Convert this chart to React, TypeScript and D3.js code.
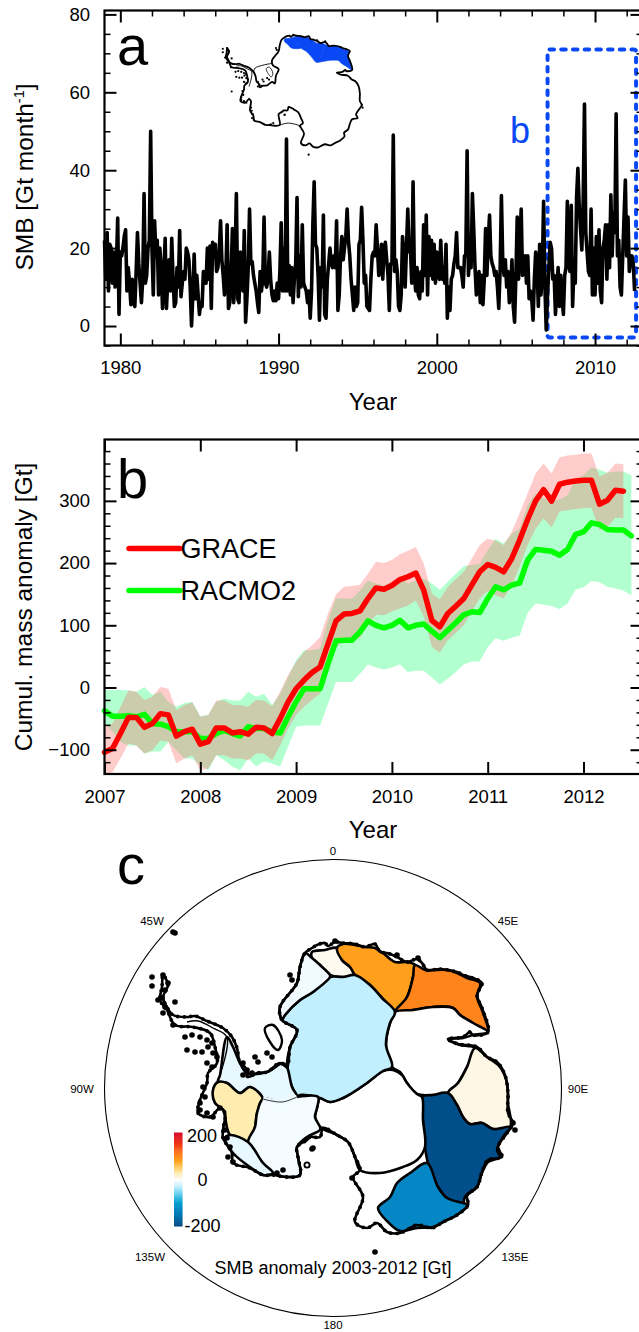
import React, { useEffect, useRef } from 'react'
import * as d3 from 'd3'

// panel a: monthly SMB from Jan 1979, one row per year
const smbMonthly = [
  22, 12, 24, 9, 21, 20, 11, 19, 10, 15, 27.7, 3,
  19, 18, 20, 23, 24.7, 9, 15, 11, 5.5, 12, 6, 5,
  14, 24, 16, 11, 6, 12, 34, 11, 13, 20, 22, 50,
  20, 8, 27, 18, 22, 8, 20, 15, 4.5, 13, 22.5, 4.5,
  12, 17, 9, 22.5, 12, 5, 6, 15, 10, 24.5, 7.5, 11,
  14, 12, 20, 19, 17, 10, 0, 8, 18.5, 7, 13, 8,
  3, 6, 5, 14, 13, 11, 20, 12, 20.5, 4.5, 21.5, 19,
  21, 14, 15, 19, 27, 17, 13, 8, 13, 26, 4.5, 6,
  13, 25, 6, 17, 34, 7, 6, 19, 15, 9, 24.5, 1,
  7, 15, 30, 16, 16.5, 13, 11, 9, 6, 3.5, 14, 9,
  12, 28, 11, 10, 12, 19, 12, 8, 6.5, 9, 6.5, 11,
  7, 14, 26.5, 9, 20, 9, 48, 9, 15.5, 8, 15, 6,
  12, 16, 33, 7.5, 18, 10, 26, 11, 10, 9, 6, 9,
  2, 9, 26, 37, 21, 20, 13, 1.5, 15, 10, 28.5, 3,
  2, 12, 16, 20, 16, 15, 18, 15, 27, 4, 8, 18,
  23, 17, 20, 23, 30, 22, 18, 12, 8, 4, 10, 5,
  6, 21, 22, 30.5, 22, 11, 13, 5, 4.5, 4, 12, 18,
  19, 18, 26, 20, 13, 14, 21, 12, 20, 21.5, 17, 13,
  4, 16, 16, 49, 14, 17, 14, 5, 4, 8, 23, 18,
  10, 20, 30, 19, 20, 11, 37, 13, 9, 15, 8, 7,
  14, 9, 26, 13, 28.5, 8, 23, 13, 22, 12, 21, 11,
  19, 13, 12, 22, 12, 15, 11, 21, 2, 10, 4, 12,
  13, 16, 18, 24, 15, 15, 15, 13, 10, 18, 18, 45,
  13, 18, 15, 34, 25, 15, 8, 12, 14, 6, 13, 5.5,
  12, 25, 13, 22, 28.5, 18, 16, 15, 13, 14, 10, 4.5,
  14, 33.5, 17, 13, 17, 10, 14, 6, 9, 17, 5, 1,
  13, 28, 12, 21, 30, 13, 15, 18, 11, 18, 7, 9,
  7, 1.5, 12, 19, 16, 5, 21, 8, 14, 32, 10, -1,
  8, 15, 21.5, 20, 12, 13, 3, 9, 15, 5, 13, 7,
  3, 13, 15, 32, 16, 14, 31, 5, 15, 11, 33, 40.5,
  31, 25, 19.5, 32, 57, 24, 19, 14, 13, 30, 8, 20,
  8, 23, 11, 24.7, 9, 6, 20, 22, 26, 12, 26, 15,
  33.7, 18, 29, 24, 54.5, 18, 22, 10, 8, 18, 28, 37.5,
  18, 28, 14, 17, 18, 16, 9,
]
const smbYearMajor = [1980, 1990, 2000, 2010]
const smbYearMinor = [1982, 1984, 1986, 1988, 1992, 1994, 1996, 1998, 2002, 2004, 2006, 2008, 2012]
const smbMajor = [0, 20, 40, 60, 80]
const smbMinor = [-5, 5, 10, 15, 25, 30, 35, 45, 50, 55, 65, 70, 75]

// panel b: monthly series from Jan 2007
const graceMass = [
  -104, -98, -74, -48, -48, -64, -58, -42, -44, -78, -71, -67,
  -91, -87, -65, -65, -73, -71, -75, -64, -65, -74, -50, -23,
  -2, 12, 24, 33, 70, 107, 118, 119, 123, 143, 160, 158,
  164, 173.5, 178, 184, 156, 108, 97.5, 119, 130.7, 143, 164.5, 186,
  197.7, 193, 186, 207, 237, 270, 300, 318, 299.5, 326.7, 330, 332,
  333, 333, 294.6, 301, 317, 315.5,
]
const graceUpper = [
  -63, -58, -31, -5, -7, -20, -15, 1, -2, -36, -28, -24,
  -47, -44, -21, -21, -28, -28, -31, -20, -21, -30, -7, 20,
  41, 57, 68, 81, 119, 150, 162, 163, 165, 183, 202, 200,
  205, 214, 220, 226, 199, 151, 142, 162, 174, 186, 207, 229,
  239, 236, 229, 250, 280, 312, 344, 360, 344, 370, 373, 374,
  376, 376, 339, 345, 360, 359,
]
const graceLower = [
  -149, -136, -114, -90, -93, -106, -101, -85, -87, -122, -114, -109,
  -133, -130, -109, -109, -114, -114, -117, -106, -106, -117, -93, -66,
  -44, -31, -20, -10, 28, 65, 75, 76, 80, 100, 117, 116,
  122, 127, 132, 140, 114, 65, 56, 76, 88, 100, 122, 143,
  155, 148, 143, 164, 194, 229, 255, 272, 257, 283, 285, 287,
  288, 289, 253, 258, 273, 272,
]
const racmoMass = [
  -37.5, -46, -46, -45.5, -47, -43, -58, -59, -63, -71, -71, -71,
  -82, -82, -74, -69, -74, -78, -63, -66, -66, -71, -73, -47,
  -23, -2, -2, -2, 38, 75, 76, 76, 89.5, 107, 100, 96,
  100, 108, 96, 100, 102, 90.5, 80, 92, 104, 117, 121.6, 120.5,
  143, 162, 157, 164.5, 168, 204.6, 222, 220.7, 219, 212.6, 221.7, 246,
  250, 264.6, 262, 254, 253, 253, 243.7,
]
const racmoUpper = [
  -4, -4, -4, -5, -7, 1, -12, -7, -23, -31, -25, -23,
  -46, -44, -23, -18, -21, -21, -7, -15, -10, -28, -10, 17,
  44, 60, 60, 63, 108, 143, 143, 143, 156, 172, 167, 164,
  170, 178, 167, 172, 175, 167, 157, 170, 183, 195, 197, 199,
  221, 239, 231, 247, 255, 293, 312, 304, 301, 302, 309, 336,
  341, 354, 350, 345, 347, 347, 341,
]
const racmoLower = [
  -58, -71, -87, -93, -93, -106, -103, -103, -87, -101, -114, -114,
  -125, -133, -109, -117, -127, -133, -114, -127, -119, -122, -127, -95,
  -63, -61, -61, -61, -26, 9, 9, 9, 22, 37, 32, 29,
  32, 37, 25, 27, 27, 16, 5, 14, 25, 37, 42, 42,
  65, 79, 75, 80, 83, 120, 135, 133, 131, 126, 135, 157,
  161, 171, 169, 162, 159, 156, 148,
]
const massYears = [2007, 2008, 2009, 2010, 2011, 2012]
const massMajor = [-100, 0, 100, 200, 300]
const massMinor = [-120, -80, -60, -40, -20, 20, 40, 60, 80, 120, 140, 160, 180, 220, 240, 260, 280, 320, 340, 360, 380]

// panel c: basin SMB anomaly [Gt]
const anomalyStops = [-200, -150, -120, -100, -60, -30, -10, 0, 8, 30, 60, 80, 105, 150, 200]
const anomalyColors = ['#00457f', '#0079b5', '#0487c4', '#00a0d0', '#62cfee', '#c2effd', '#e8f8ff', '#ffffff',
  '#fff7e6', '#feedaf', '#ffc04d', '#ff9f1c', '#ff841c', '#f23b17', '#d6082a']

// basin outlines in polar grid units, origin at the pole
const basinDronning = [[-21, -136], [-8, -138], [4, -140], [9, -128], [17, -121], [22, -113], [10, -111], [-3, -113], [-13, -123], [-21, -130]]
const basinEnderby = [[4, -140], [10, -144], [22, -143], [32, -141], [42, -140], [50, -135], [62, -126], [74, -126], [82, -123], [80, -111], [74, -91], [62, -76], [49, -90], [37, -103], [22, -113], [17, -121], [9, -128]]
const basinKemp = [[82, -123], [92, -118], [100, -118], [114, -118], [124, -115], [134, -110], [147, -105], [144, -91], [149, -78], [155, -56], [140, -65], [127, -73], [120, -80], [100, -81], [80, -78], [62, -76], [74, -91], [80, -111]]
const basinLambert = [[62, -76], [80, -78], [100, -81], [120, -80], [127, -73], [140, -65], [155, -56], [140, -53], [130, -50], [115, -49], [127, -43], [142, -40], [134, -21], [125, -5], [115, 5], [100, 7], [84, 6], [74, -5], [67, -16], [59, -21], [53, -43], [57, -65]]
const basinWilkes = [[142, -40], [154, -31], [167, -21], [174, -5], [175, 15], [177, 39], [160, 41], [149, 35], [137, 36], [130, 29], [124, 17], [115, 5], [125, -5], [134, -21]]
const basinTotten = [[89, 9], [100, 7], [115, 5], [124, 17], [130, 29], [137, 36], [149, 35], [160, 41], [177, 39], [170, 49], [164, 62], [167, 69], [155, 74], [149, 85], [144, 99], [132, 109], [130, 115], [114, 110], [105, 99], [95, 75], [92, 59], [90, 32]]
const basinAdelie = [[94, 75], [105, 99], [114, 110], [130, 115], [135, 117], [124, 127], [114, 132], [100, 139], [84, 140], [67, 143], [55, 134], [45, 120], [57, 109], [64, 95], [77, 85]]
const basinDome = [[-16, 20], [-13, 10], [-3, 14], [10, 10], [19, 5], [34, -5], [50, -17], [60, -18], [69, -13], [74, -5], [84, 6], [89, 9], [90, 32], [92, 59], [84, 72], [70, 79], [47, 85], [27, 82], [22, 69], [15, 54], [4, 47], [-13, 39], [-18, 29]]
const basinPlateau = [[-33, -88], [-20, -96], [-3, -111], [10, -111], [22, -113], [37, -103], [49, -90], [62, -76], [57, -65], [53, -43], [59, -21], [50, -17], [34, -5], [19, 5], [10, 10], [-3, 14], [-13, 10], [-33, 7], [-36, 9], [-41, -1], [-46, -21], [-43, -41], [-36, -58], [-51, -68], [-48, -73]]
const basinCoats = [[-28, -135], [-21, -130], [-13, -123], [-3, -113], [-3, -111], [-20, -96], [-33, -88], [-48, -73], [-51, -68], [-53, -81], [-36, -105], [-33, -121]]
const basinRonne = [[-113, -13], [-106, -51], [-100, -41], [-93, -25], [-86, -15], [-66, -16], [-50, -25], [-46, -21], [-41, -1], [-36, 9], [-51, 14], [-70, 11], [-83, -1], [-93, 5], [-106, -5], [-115, -6]]
const basinEllsworth = [[-120, 2], [-115, -6], [-106, -5], [-93, 5], [-83, -1], [-70, 11], [-76, 25], [-78, 39], [-85, 54], [-103, 47], [-110, 22], [-118, 15]]
const basinSiple = [[-70, 11], [-51, 14], [-36, 9], [-15, 9], [-16, 20], [-18, 29], [-13, 39], [-13, 42], [-26, 49], [-36, 59], [-35, 69], [-33, 87], [-46, 89], [-60, 85], [-70, 75], [-85, 55], [-78, 39], [-76, 25]]
const basinAmundsen = [[-103, 47], [-85, 54], [-70, 75], [-60, 85], [-70, 87], [-83, 79], [-100, 65], [-108, 50]]

const basinOutlines = [basinDronning, basinEnderby, basinKemp, basinLambert, basinWilkes, basinTotten, basinAdelie,
  basinDome, basinPlateau, basinCoats, basinRonne, basinEllsworth, basinSiple, basinAmundsen]
const basinAnomaly = [5, 80, 105, 0, 8, -190, -120, 0, -30, -6, -10, 30, -5, -10]
const blueBasins = [basinDronning, basinEnderby, basinKemp]

const coastline = [[-170, -113], [-165, -103], [-170, -91], [-166, -81], [-160, -73], [-146, -71], [-138, -72], [-126, -67], [-110, -60], [-101, -51], [-96, -40], [-93, -25], [-88, -21], [-85, -11], [-76, -15], [-66, -16], [-53, -25], [-46, -21], [-43, -41], [-36, -58], [-51, -68], [-53, -81], [-36, -105], [-33, -121], [-28, -135], [-21, -140], [-16, -143], [-8, -145], [-5, -142], [2, -146], [10, -145], [22, -144], [32, -141], [42, -144], [47, -136], [54, -135], [64, -131], [74, -126], [84, -129], [89, -125], [94, -118], [107, -119], [124, -116], [130, -113], [140, -110], [149, -105], [144, -93], [149, -80], [155, -56], [140, -53], [137, -56], [130, -51], [115, -49], [125, -44], [144, -41], [154, -31], [164, -26], [172, -13], [175, 5], [175, 25], [180, 35], [174, 45], [165, 59], [169, 69], [155, 72], [149, 84], [144, 99], [134, 107], [135, 117], [124, 127], [110, 134], [99, 140], [84, 137], [67, 145], [54, 144], [44, 135], [34, 140], [22, 134], [30, 109], [20, 89], [27, 82], [22, 69], [15, 54], [4, 47], [-10, 40], [-13, 49], [-23, 49], [-26, 52], [-36, 59], [-35, 69], [-33, 87], [-46, 89], [-60, 87], [-70, 87], [-83, 80], [-100, 75], [-101, 65], [-110, 50], [-110, 42], [-108, 25], [-113, 20], [-123, 29], [-135, 25], [-133, 12], [-126, -5], [-125, -15], [-116, -25], [-118, -41], [-123, -55], [-140, -61], [-158, -63], [-166, -78], [-173, -88], [-171, -101]]
const berknerIsland = [[-68, -60], [-60, -63], [-51, -48], [-55, -38], [-63, -46]]
const peninsulaShelf = [[-146, -66], [-135, -67], [-120, -60], [-106, -51], [-113, -13]]
const rossFront = [[-33, 87], [-10, 82], [20, 89]]
const ronneFront = [[-101, -51], [-97, -61], [-54, -73]]
const thinDivide = [[-70, 11], [-51, 14], [-36, 9]]
const islands = [[-181, -111], [-181, -102], [-170, -113], [-165, -105], [-168, -98], [-171, -90], [-175, -88], [-168, -81], [-158, -86], [-160, -63], [-170, -75],
  [-148, -51], [-141, -53], [-133, -51], [-126, -48], [-121, -45], [-146, -38], [-138, -36], [-131, -36], [-125, -41], [-120, -35], [-126, -25], [-121, -21], [-116, -31],
  [-130, -1], [-128, 9], [-133, 15], [-133, 22], [-126, 25], [-120, 29], [-113, 20], [-108, 42], [-106, 50], [-103, 59], [-100, 74], [-105, 69],
  [-90, -25], [-86, -18], [-90, -13], [-81, -15], [-78, -31], [-75, -26], [-66, -35], [-61, -31],
  [-43, -113], [-41, -108], [-20, 60], [-50, 82], [-56, 85], [19, 90], [-21, 61], [180, 35], [182, 42], [85, -130], [64, -133], [2, -147], [42, 164]]
const farIslands = [[-160, -156], [-158, -155]]
const insetOnlyIslands = [[-158, 0]]
const ringIsland = [[-26, 77]]

const meridianLabels = ['0', '45E', '90E', '135E', '180', '135W', '90W', '45W']
const meridianOffsets = [[0, -237], [175, -167], [245, 1], [182, 169], [0, 237], [-183, 169], [-251, 1], [-181, -167]]

const FONT = '"Liberation Sans", Arial, sans-serif'

function drawAxes(g, x, y, frame, xMajor, xMinor, yMajor, yMinor) {
  const { left, right, top, bottom } = frame
  const style = (sel, w) => {
    sel.select('.domain').remove()
    sel.selectAll('line').attr('stroke', '#000').attr('stroke-width', w)
    sel.selectAll('text').attr('font-family', FONT).attr('font-size', 18.5).attr('fill', '#000')
  }
  const none = () => ''
  g.append('g').attr('transform', `translate(0,${bottom})`)
    .call(d3.axisBottom(x).tickValues(xMajor).tickFormat(d3.format('d')).tickSize(-12).tickPadding(15.5)).call(style, 2)
  g.append('g').attr('transform', `translate(0,${top})`)
    .call(d3.axisTop(x).tickValues(xMajor).tickFormat(none).tickSize(-12)).call(style, 2)
  g.append('g').attr('transform', `translate(${left},0)`)
    .call(d3.axisLeft(y).tickValues(yMajor).tickFormat(d3.format('d')).tickSize(-12).tickPadding(14.5)).call(style, 2)
  g.append('g').attr('transform', `translate(${right},0)`)
    .call(d3.axisRight(y).tickValues(yMajor).tickFormat(none).tickSize(-12)).call(style, 2)
  if (xMinor.length) {
    g.append('g').attr('transform', `translate(0,${bottom})`)
      .call(d3.axisBottom(x).tickValues(xMinor).tickFormat(none).tickSize(-6)).call(style, 1.5)
    g.append('g').attr('transform', `translate(0,${top})`)
      .call(d3.axisTop(x).tickValues(xMinor).tickFormat(none).tickSize(-6)).call(style, 1.5)
  }
  g.append('g').attr('transform', `translate(${left},0)`)
    .call(d3.axisLeft(y).tickValues(yMinor).tickFormat(none).tickSize(-6)).call(style, 1.5)
  g.append('g').attr('transform', `translate(${right},0)`)
    .call(d3.axisRight(y).tickValues(yMinor).tickFormat(none).tickSize(-6)).call(style, 1.5)
  g.append('rect').attr('x', left).attr('y', top).attr('width', right - left).attr('height', bottom - top)
    .attr('fill', 'none').attr('stroke', '#000').attr('stroke-width', 2.2)
}

function label(svg, txt, x, y, size, anchor = 'start', fill = '#000') {
  return svg.append('text').attr('x', x).attr('y', y).attr('font-family', FONT).attr('font-size', size)
    .attr('text-anchor', anchor).attr('fill', fill).text(txt)
}

export default function App() {
  const ref = useRef(null)

  useEffect(() => {
    const svg = d3.select(ref.current)
    svg.selectAll('*').remove()

    // ---- panel a
    const frameA = { left: 104.5, right: 642.5, top: 10.5, bottom: 345.5 }
    const xA = d3.scaleLinear().domain([1979, 2013]).range([frameA.left, frameA.right])
    const yA = d3.scaleLinear().domain([-5, 81]).range([frameA.bottom, frameA.top])

    // the same grid outlines are used for the inset and for panel c
    const makeMap = (k, cx, cy) => {
      const sx = d3.scaleLinear().domain([0, 100]).range([cx, cx + 100 * k])
      const sy = d3.scaleLinear().domain([0, 100]).range([cy, cy + 100 * k])
      return {
        sx, sy,
        ring: d3.line().x(d => sx(d[0])).y(d => sy(d[1])).curve(d3.curveCatmullRomClosed.alpha(0.5)),
        open: d3.line().x(d => sx(d[0])).y(d => sy(d[1])).curve(d3.curveCatmullRom.alpha(0.5)),
      }
    }

    const inset = makeMap(0.385, 292.5, 91.5)
    svg.append('path').attr('d', inset.ring(coastline)).attr('fill', '#fff')
    svg.selectAll('.blue').data(blueBasins).join('path').attr('class', 'blue')
      .attr('d', d => inset.ring(d)).attr('fill', '#0b48f5').attr('stroke', '#0b48f5').attr('stroke-width', 0.5)
    svg.append('path').attr('d', inset.ring(coastline)).attr('fill', 'none')
      .attr('stroke', '#000').attr('stroke-width', 1.8).attr('stroke-linejoin', 'round')
    svg.append('path').attr('d', inset.ring(berknerIsland)).attr('fill', '#fff').attr('stroke', '#000').attr('stroke-width', 0.8)
    ;[peninsulaShelf, rossFront, ronneFront].forEach((l) => {
      svg.append('path').attr('d', inset.open(l)).attr('fill', 'none').attr('stroke', '#000').attr('stroke-width', 0.9)
    })
    svg.selectAll('.inset-island').data([...islands, ...insetOnlyIslands]).join('circle').attr('class', 'inset-island')
      .attr('cx', d => inset.sx(d[0])).attr('cy', d => inset.sy(d[1])).attr('r', 1.1)

    // box for panel b
    svg.append('rect').attr('x', xA(2007)).attr('y', 49.5).attr('width', 88.5).attr('height', 288)
      .attr('rx', 2).attr('fill', 'none').attr('stroke', '#0b48f5').attr('stroke-width', 4)
      .attr('stroke-dasharray', '4.5 7.2').attr('stroke-linecap', 'round')
    label(svg, 'b', 510, 143, 36, 'start', '#0b48f5')

    const smbLine = d3.line().x((_, i) => xA(1979 + i / 12)).y(d => yA(d))
    svg.append('path').datum(smbMonthly).attr('d', smbLine).attr('fill', 'none')
      .attr('stroke', '#000').attr('stroke-width', 3.6).attr('stroke-linejoin', 'round')

    drawAxes(svg.append('g'), xA, yA, frameA, smbYearMajor, smbYearMinor, smbMajor, smbMinor)
    label(svg, 'a', 117, 65, 56)
    label(svg, 'Year', 373, 410, 24, 'middle')
    const tA = label(svg, 'SMB [Gt month', 0, 0, 24.5, 'middle').attr('transform', 'translate(33,177) rotate(-90)')
    tA.append('tspan').attr('font-size', 14.5).attr('dy', -9).text('-1')
    tA.append('tspan').attr('dy', 9).text(']')

    // ---- panel b
    const frameB = { left: 104.5, right: 642.5, top: 439.5, bottom: 774 }
    const xB = d3.scaleLinear().domain([2007, 2012 + 538 / 95.8 - 5]).range([frameB.left, frameB.right])
    const yB = d3.scaleLinear().domain([-139, 398.6]).range([frameB.bottom, frameB.top])
    const t = (i) => 2007 + i / 12

    svg.append('clipPath').attr('id', 'frame-b').append('rect').attr('x', frameB.left).attr('y', frameB.top)
      .attr('width', frameB.right - frameB.left).attr('height', frameB.bottom - frameB.top)

    const band = (upper) => d3.area().x((_, i) => xB(t(i))).y0(d => yB(d)).y1((_, i) => yB(upper[i]))
    svg.append('path').datum(racmoLower).attr('d', band(racmoUpper)).attr('fill', 'rgb(0,255,100)')
      .attr('fill-opacity', 0.3).attr('clip-path', 'url(#frame-b)')
    svg.append('path').datum(graceLower).attr('d', band(graceUpper)).attr('fill', 'rgb(255,100,100)')
      .attr('fill-opacity', 0.33).attr('clip-path', 'url(#frame-b)')

    const massLine = d3.line().x((_, i) => xB(t(i))).y(d => yB(d))
    svg.append('path').datum(racmoMass).attr('d', massLine).attr('fill', 'none').attr('stroke', '#00ff00')
      .attr('stroke-width', 5.5).attr('stroke-linecap', 'round').attr('stroke-linejoin', 'round')
    svg.append('path').datum(graceMass).attr('d', massLine).attr('fill', 'none').attr('stroke', '#ff0000')
      .attr('stroke-width', 5.5).attr('stroke-linecap', 'round').attr('stroke-linejoin', 'round')

    drawAxes(svg.append('g'), xB, yB, frameB, massYears, [], massMajor, massMinor)
    label(svg, 'b', 117, 498, 56)
    label(svg, 'Year', 373, 838, 24, 'middle')
    label(svg, 'Cumul. mass anomaly [Gt]', 0, 0, 24.5, 'middle').attr('transform', 'translate(32,607) rotate(-90)')

    const legend = [['GRACE', '#ff0000', 548.5, 558], ['RACMO2', '#00ff00', 590.5, 600]]
    legend.forEach(([name, color, ly, ty]) => {
      svg.append('line').attr('x1', 129).attr('x2', 180).attr('y1', ly).attr('y2', ly)
        .attr('stroke', color).attr('stroke-width', 5.5).attr('stroke-linecap', 'round')
      label(svg, name, 180.5, ty, 27)
    })

    // ---- panel c
    const cx = 333, cy = 1088, radius = 228.5
    const color = d3.scaleLinear().domain(anomalyStops).range(anomalyColors)
    const map = makeMap(1, cx, cy)

    svg.append('circle').attr('cx', cx).attr('cy', cy).attr('r', radius).attr('fill', 'none').attr('stroke', '#000').attr('stroke-width', 1.1)
    meridianLabels.forEach((m, i) => {
      label(svg, m, cx + meridianOffsets[i][0], cy + meridianOffsets[i][1] + 4, 11.5, 'middle')
    })

    svg.append('path').attr('d', map.ring(coastline)).attr('fill', '#fff')
    svg.selectAll('.basin').data(basinOutlines).join('path').attr('class', 'basin')
      .attr('d', d => map.ring(d)).attr('fill', (_, i) => color(basinAnomaly[i]))
      .attr('stroke', '#000').attr('stroke-width', 2.6).attr('stroke-linejoin', 'round')
    svg.append('path').attr('d', map.open(thinDivide)).attr('fill', 'none').attr('stroke', '#eefaff').attr('stroke-width', 5)
    svg.append('path').attr('d', map.open(thinDivide)).attr('fill', 'none').attr('stroke', '#000').attr('stroke-width', 0.8)
    // coast plus a round dotted pass on top, gives the rough edge
    svg.append('path').attr('d', map.ring(coastline)).attr('fill', 'none')
      .attr('stroke', '#000').attr('stroke-width', 2.6).attr('stroke-linejoin', 'round')
    svg.append('path').attr('d', map.ring(coastline)).attr('fill', 'none')
      .attr('stroke', '#000').attr('stroke-width', 3.8).attr('stroke-linecap', 'round').attr('stroke-dasharray', '0 6.5')
    svg.append('path').attr('d', map.ring(berknerIsland)).attr('fill', '#fff').attr('stroke', '#000').attr('stroke-width', 2.4)
    svg.append('path').attr('d', map.open(peninsulaShelf)).attr('fill', 'none').attr('stroke', '#000').attr('stroke-width', 1.4)
    svg.selectAll('.island').data([...islands, ...farIslands]).join('circle').attr('class', 'island')
      .attr('cx', d => map.sx(d[0])).attr('cy', d => map.sy(d[1])).attr('r', 2.8)
    svg.selectAll('.ring-island').data(ringIsland).join('circle').attr('class', 'ring-island')
      .attr('cx', d => map.sx(d[0])).attr('cy', d => map.sy(d[1])).attr('r', 2.6)
      .attr('fill', '#fff').attr('stroke', '#000').attr('stroke-width', 1.8)

    // colorbar
    const barY = d3.scaleLinear().domain([-200, 200]).range([1226, 1132.5])
    const steps = d3.range(-200, 200, 8)
    svg.selectAll('.cbar').data(steps).join('rect').attr('class', 'cbar')
      .attr('x', 174).attr('width', 8.5).attr('y', d => barY(d + 8)).attr('height', d => barY(d) - barY(d + 8) + 0.5)
      .attr('fill', d => color(d + 4))
    label(svg, '200', 187, 1142, 18)
    label(svg, '0', 202.5, 1186, 18, 'middle')
    label(svg, '-200', 184.5, 1232, 18)
    label(svg, 'SMB anomaly 2003-2012 [Gt]', 333, 1274, 18, 'middle')
    label(svg, 'c', 117, 884, 56)
  }, [])

  return (
    <svg ref={ref} width={639} height={1332} style={{ position: 'absolute', left: 0, top: 0 }} />
  )
}
